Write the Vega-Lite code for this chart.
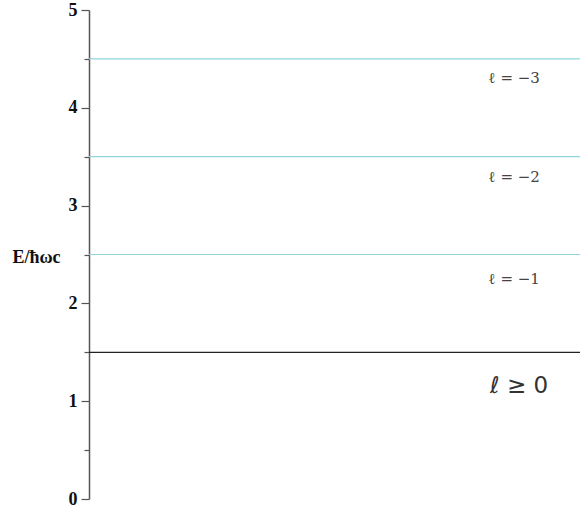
{
  "$schema": "https://vega.github.io/schema/vega-lite/v6.json",
  "autosize": {"type": "none"},
  "width": 491,
  "height": 489,
  "padding": {"left": 89, "top": 10, "right": 6, "bottom": 11},
  "background": "white",
  "config": {"view": {"stroke": null}},
  "datasets": {
    "levels": [
      {"E": 1.5, "kind": "black"},
      {"E": 2.5, "kind": "cyan"},
      {"E": 3.5, "kind": "cyan"},
      {"E": 4.5, "kind": "cyan"}
    ],
    "labels": [
      {"x": 0.866, "E": 4.3, "text": "ℓ  =  −3"},
      {"x": 0.866, "E": 3.29, "text": "ℓ  =  −2"},
      {"x": 0.866, "E": 2.25, "text": "ℓ  =  −1"}
    ],
    "big": [
      {"x": 0.876, "E": 1.155, "text": "ℓ ≥ 0"}
    ]
  },
  "layer": [
    {
      "data": {"name": "levels"},
      "mark": {"type": "rule", "strokeWidth": 1.2},
      "encoding": {
        "y": {
          "field": "E",
          "type": "quantitative",
          "scale": {"domain": [0, 5], "nice": false, "zero": true},
          "axis": {
            "values": [0, 0.5, 1, 1.5, 2, 2.5, 3, 3.5, 4, 4.5, 5],
            "labelExpr": "datum.value % 1 === 0 ? format(datum.value, 'd') : ''",
            "tickSize": {"condition": {"test": "datum.value % 1 !== 0", "value": 5}, "value": 8},
            "grid": false,
            "domainColor": "#555",
            "domainWidth": 1.5,
            "tickColor": "#555",
            "tickWidth": 1.2,
            "labelFont": "Liberation Serif",
            "labelFontSize": 18,
            "labelFontWeight": "bold",
            "labelColor": "#111",
            "labelPadding": 4,
            "title": "E/ħωc",
            "titleFont": "Liberation Serif",
            "titleFontSize": 18,
            "titleFontWeight": "bold",
            "titleColor": "#111",
            "titleAngle": 0,
            "titleAlign": "center",
            "titleBaseline": "middle",
            "titleX": -53,
            "titleY": 247
          }
        },
        "color": {
          "field": "kind",
          "type": "nominal",
          "scale": {"domain": ["black", "cyan"], "range": ["#222222", "#8fd6dd"]},
          "legend": null
        }
      }
    },
    {
      "data": {"name": "labels"},
      "mark": {"type": "text", "font": "DejaVu Serif", "fontSize": 15, "color": "#444", "align": "center", "baseline": "middle"},
      "encoding": {
        "x": {"field": "x", "type": "quantitative", "scale": {"domain": [0, 1]}, "axis": null},
        "y": {"field": "E", "type": "quantitative"},
        "text": {"field": "text"}
      }
    },
    {
      "data": {"name": "big"},
      "mark": {"type": "text", "font": "DejaVu Sans", "fontSize": 23, "color": "#333", "align": "center", "baseline": "middle"},
      "encoding": {
        "x": {"field": "x", "type": "quantitative", "scale": {"domain": [0, 1]}, "axis": null},
        "y": {"field": "E", "type": "quantitative"},
        "text": {"field": "text"}
      }
    }
  ]
}
